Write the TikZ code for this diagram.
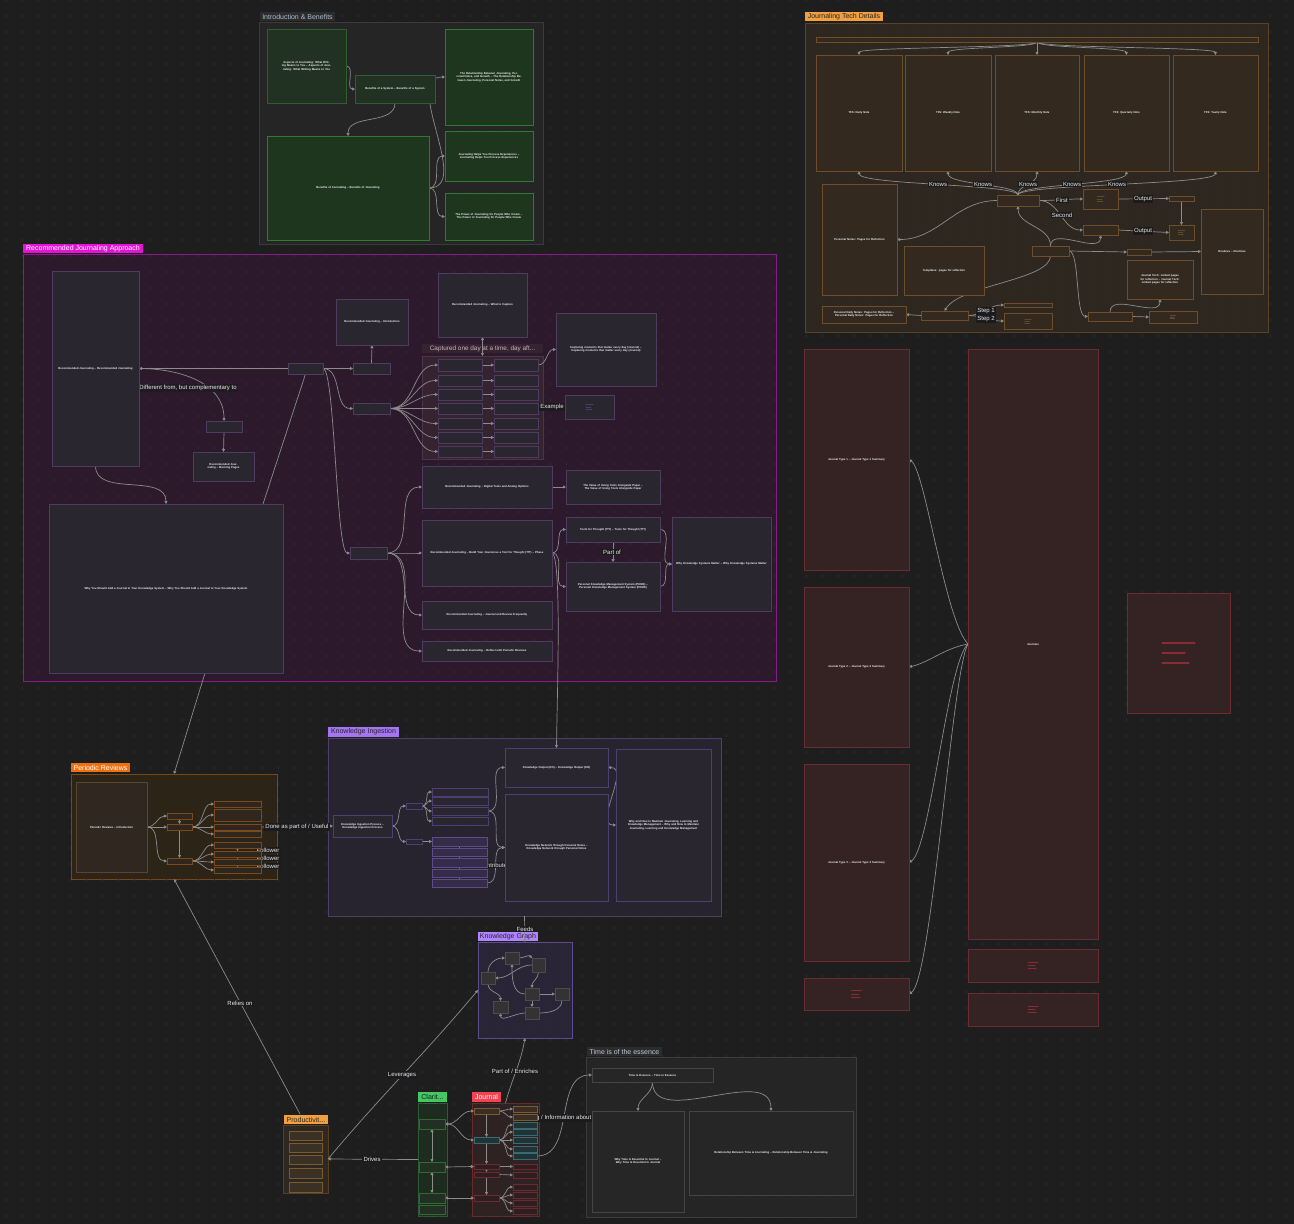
\documentclass[tikz,border=0pt]{standalone}
\usepackage{fontspec}
\setmainfont{Liberation Sans}
\usetikzlibrary{arrows.meta,calc}
\pgfdeclarelayer{groups}
\pgfdeclarelayer{dots}
\pgfdeclarelayer{tabs}
\pgfdeclarelayer{edges}
\pgfsetlayers{groups,dots,tabs,edges,main}
\definecolor{bgc}{HTML}{1E1E1E}
\definecolor{dotc}{HTML}{303030}
\definecolor{edgec}{HTML}{8C8C8C}
\definecolor{lblbg}{HTML}{1B1B1D}
\definecolor{lbltx}{HTML}{E8E8E8}
\definecolor{boxtx}{HTML}{F2F2F2}
\definecolor{introf}{HTML}{252525}
\definecolor{introd}{HTML}{3A3A3A}
\definecolor{introtab}{HTML}{2C2C2C}
\definecolor{introtx}{HTML}{A8BCD0}
\definecolor{gAf}{HTML}{223222}
\definecolor{gAd}{HTML}{2F5F2F}
\definecolor{gBf}{HTML}{1E361E}
\definecolor{gBd}{HTML}{2F7A2F}
\definecolor{techf}{HTML}{2E271F}
\definecolor{techd}{HTML}{5A4224}
\definecolor{techtab}{HTML}{F0A040}
\definecolor{technf}{HTML}{33291F}
\definecolor{technd}{HTML}{6E4D2A}
\definecolor{techic}{HTML}{5E4830}
\definecolor{recf}{HTML}{2C1A2C}
\definecolor{recd}{HTML}{8A1A8A}
\definecolor{rectab}{HTML}{E414D4}
\definecolor{recnf}{HTML}{29262F}
\definecolor{recnd}{HTML}{4C3C60}
\definecolor{capf}{HTML}{35232F}
\definecolor{capd}{HTML}{4E3448}
\definecolor{captx}{HTML}{C8B6C6}
\definecolor{recic}{HTML}{4A3D5E}
\definecolor{pertab}{HTML}{F07010}
\definecolor{perf}{HTML}{2D2418}
\definecolor{perd}{HTML}{7A4518}
\definecolor{pernf}{HTML}{2F261D}
\definecolor{pernd}{HTML}{7A4A1E}
\definecolor{per1f}{HTML}{302820}
\definecolor{per1d}{HTML}{5A4630}
\definecolor{kitab}{HTML}{A474F2}
\definecolor{kif}{HTML}{28242F}
\definecolor{kid}{HTML}{4A4068}
\definecolor{kinf}{HTML}{29262F}
\definecolor{kind}{HTML}{4C4070}
\definecolor{kilf}{HTML}{342C48}
\definecolor{kild}{HTML}{5C4C88}
\definecolor{kgtab}{HTML}{B084FF}
\definecolor{kgf}{HTML}{2A2536}
\definecolor{kgd}{HTML}{5C4C8C}
\definecolor{kgnf}{HTML}{333333}
\definecolor{kgnd}{HTML}{4C4C4C}
\definecolor{prf}{HTML}{2F2820}
\definecolor{prd}{HTML}{5A4020}
\definecolor{prnf}{HTML}{3A3024}
\definecolor{prnd}{HTML}{7A5A30}
\definecolor{clatab}{HTML}{44C864}
\definecolor{claf}{HTML}{1E2C20}
\definecolor{clad}{HTML}{2E5C32}
\definecolor{clanf}{HTML}{213022}
\definecolor{clnd}{HTML}{2E6A32}
\definecolor{joutab}{HTML}{F04452}
\definecolor{jouf}{HTML}{2E2222}
\definecolor{joud}{HTML}{6A2A2C}
\definecolor{jbrf}{HTML}{3A2E22}
\definecolor{jbrd}{HTML}{7A5A30}
\definecolor{jtef}{HTML}{1E3436}
\definecolor{jted}{HTML}{3C6A70}
\definecolor{jref}{HTML}{2E1E20}
\definecolor{jred}{HTML}{6A2A30}
\definecolor{tif}{HTML}{252525}
\definecolor{tid}{HTML}{3C3C3C}
\definecolor{titab}{HTML}{2C2C2C}
\definecolor{titx}{HTML}{B8C8D8}
\definecolor{tinf}{HTML}{262626}
\definecolor{tind}{HTML}{454545}
\definecolor{qf}{HTML}{352323}
\definecolor{qd}{HTML}{6A2C32}
\definecolor{qic}{HTML}{8A2C36}
\newcommand\boxfont{\fontsize{2.8}{3.3}\selectfont\bfseries}
\newcommand\tabfont{\fontsize{7}{8}\selectfont}
\newcommand\lblfont{\fontsize{6}{7}\selectfont}
\newcommand{\bx}[7]{%
 \pgfmathsetmacro\myBW{#4-#2}%
 \pgfmathsetmacro\myBH{#5-#3}%
 \pgfmathsetmacro\myCX{(#2+#4)/2}%
 \pgfmathsetmacro\myCY{(#3+#5)/2}%
 \pgfmathsetmacro\myTW{max(#4-#2-8,2)}%
 \node[#6, minimum width=\myBW pt, minimum height=\myBH pt, text width=\myTW pt] (#1) at (\myCX,\myCY) {#7};}
\newcommand{\tb}[7]{%
 \pgfmathsetmacro\myBW{#4-#2}%
 \pgfmathsetmacro\myBH{#5-#3}%
 \pgfmathsetmacro\myCX{(#2+#4)/2}%
 \pgfmathsetmacro\myCY{(#3+#5)/2}%
 \node[tabx, #6, minimum width=\myBW pt, minimum height=\myBH pt] (#1) at (\myCX,\myCY) {#7};}
\newcommand{\icn}[4]{%
 \begin{scope}[shift={(#1.center)}, scale=#2]
 \draw[draw=#3, line width=#4, line cap=round] (-4,-2.5)--(4,-2.5) (-4,0)--(1.5,0) (-4,2.5)--(2.5,2.5);
 \end{scope}}
\begin{document}
\begin{tikzpicture}[x=1pt,y=-1pt,
 ed/.style={draw=edgec, line width=0.7pt, -{Triangle[length=3pt,width=3pt]}},
 edd/.style={draw=edgec, line width=0.7pt, {Triangle[length=3pt,width=3pt]}-{Triangle[length=3pt,width=3pt]}},
 edp/.style={draw=edgec, line width=0.7pt},
 lbl/.style={fill=lblbg, text=lbltx, font=\lblfont, inner sep=1.2pt},
 nbox/.style={rectangle, inner sep=0pt, outer sep=0pt, line width=0.7pt, align=center, font=\boxfont, text=boxtx},
 grpx/.style={rectangle, inner sep=0pt, outer sep=0pt, line width=0.7pt},
 tabx/.style={rectangle, inner sep=0pt, outer sep=0pt, font=\tabfont, align=center},
 gA/.style={nbox, fill=gAf, draw=gAd},
 gB/.style={nbox, fill=gBf, draw=gBd},
 tn/.style={nbox, fill=technf, draw=technd},
 rn/.style={nbox, fill=recnf, draw=recnd},
 pn/.style={nbox, fill=pernf, draw=pernd},
 kn/.style={nbox, fill=kinf, draw=kind},
 kl/.style={nbox, fill=kilf, draw=kild},
 gn/.style={nbox, fill=kgnf, draw=kgnd},
 prn/.style={nbox, fill=prnf, draw=prnd},
 cn/.style={nbox, fill=clanf, draw=clnd},
 jb/.style={nbox, fill=jbrf, draw=jbrd},
 jt/.style={nbox, fill=jtef, draw=jted},
 jr/.style={nbox, fill=jref, draw=jred},
 tin/.style={nbox, fill=tinf, draw=tind},
 qn/.style={nbox, fill=qf, draw=qd}
]
\useasboundingbox (0,0) rectangle (1294,1224);
% ================= GROUPS =================
\begin{pgfonlayer}{groups}
\fill[bgc] (0,0) rectangle (1294,1224);
\bx{gIntro}{259}{22}{543}{244}{grpx, fill=introf, draw=introd}{}
\bx{gTech}{805}{23}{1268}{332}{grpx, fill=techf, draw=techd}{}
\bx{gRec}{23}{254}{776}{681}{grpx, fill=recf, draw=recd}{}
\bx{capg}{422}{356}{543}{459}{grpx, fill=capf, draw=capd}{}
\bx{PRg}{71}{774}{277}{879}{grpx, fill=perf, draw=perd}{}
\bx{KIg}{328}{738}{721}{916}{grpx, fill=kif, draw=kid}{}
\bx{KGg}{478}{942}{572}{1038}{grpx, fill=kgf, draw=kgd}{}
\bx{Pg}{283}{1125}{328}{1193}{grpx, fill=prf, draw=prd}{}
\bx{Cg}{418}{1103}{447}{1216}{grpx, fill=claf, draw=clad}{}
\bx{Jg}{472}{1103}{539}{1216}{grpx, fill=jouf, draw=joud}{}
\bx{Tg}{586}{1057}{856}{1217}{grpx, fill=tif, draw=tid}{}
\end{pgfonlayer}
% ================= DOT GRID =================
\begin{pgfonlayer}{dots}
\foreach \yy in {0,16,...,1216} \draw[dotc, line width=1.1pt, dash pattern=on 1.1pt off 14.9pt] (5.5,\yy) -- (1294,\yy);
\end{pgfonlayer}
% ================= TABS =================
\begin{pgfonlayer}{tabs}
\tb{tIntro}{260}{12}{335}{21}{fill=introtab, text=introtx}{Introduction \& Benefits}
\tb{tTech}{805}{12}{883}{21}{fill=techtab, text=black!85}{Journaling Tech Details}
\tb{tRec}{23}{244}{143}{253}{fill=rectab, text=white}{Recommended Journaling Approach}
\tb{tCap}{422}{344}{543}{353}{fill=capf, text=captx, font=\fontsize{6.4}{7}\selectfont}{Captured one day at a time, day aft...}
\tb{tPR}{71}{763}{130}{772}{fill=pertab, text=white}{Periodic Reviews}
\tb{tKI}{328}{727}{399}{737}{fill=kitab, text=black!85}{Knowledge Ingestion}
\tb{tKG}{478}{932}{538}{941}{fill=kgtab, text=black!85}{Knowledge Graph}
\tb{tP}{284}{1115}{328}{1124}{fill=techtab, text=black!85}{Productivit...}
\tb{tC}{418}{1092}{447}{1102}{fill=clatab, text=black!90}{Clarit...}
\tb{tJ}{472}{1092}{501}{1102}{fill=joutab, text=white}{Journal}
\tb{tT}{587}{1047}{662}{1056}{fill=titab, text=titx}{Time is of the essence}
\end{pgfonlayer}
% ================= NODES =================
% Introduction
\bx{iA}{267}{29}{346}{103}{gA}{Aspects of Journaling: What Writing Means to You – Aspects of Journaling: What Writing Means to You}
\bx{iB}{355}{75}{435}{103}{gA}{Benefits of a System – Benefits of a System}
\bx{iC}{267}{136}{429}{240}{gB}{Benefits of Journaling – Benefits of Journaling}
\bx{iD}{445}{29}{533}{125}{gB}{The Relationship Between Journaling, Personal Notes, and Growth – The Relationship Between Journaling, Personal Notes, and Growth}
\bx{iE}{445}{131}{533}{181}{gB}{Journaling Helps You Process Experiences – Journaling Helps You Process Experiences}
\bx{iF}{445}{193}{533}{240}{gB}{The Power of Journaling for People Who Create – The Power of Journaling for People Who Create}
% Tech
\bx{tTop}{816}{37}{1258}{42}{tn}{}
\bx{t1}{816}{55}{902}{171}{tn}{TFS: Daily Note}
\bx{t2}{905}{55}{991}{171}{tn}{TFS: Weekly Note}
\bx{t3}{995}{55}{1079}{171}{tn}{TFS: Monthly Note}
\bx{t4}{1084}{55}{1169}{171}{tn}{TFS: Quarterly Note}
\bx{t5}{1173}{55}{1258}{171}{tn}{TFS: Yearly Note}
\bx{K}{997}{195}{1039}{206}{tn}{}
\bx{L1}{822}{184}{897}{295}{tn}{Personal Notes: Pages for Reflection}
\bx{F1}{1083}{189}{1118}{209}{tn}{}
\bx{O1}{1169}{196}{1194}{201}{tn}{}
\bx{O2}{1169}{225}{1194}{240}{tn}{}
\bx{S2}{1083}{225}{1118}{235}{tn}{}
\bx{M}{1032}{246}{1069}{256}{tn}{}
\bx{N1}{1127}{249}{1151}{255}{tn}{}
\bx{BR}{1201}{209}{1263}{294}{tn}{Routines – Routines}
\bx{B1}{1088}{312}{1132}{321}{tn}{}
\bx{B2}{1149}{311}{1197}{323}{tn}{}
\bx{JT}{1127}{260}{1193}{299}{tn}{Journal Tech: Linked pages for reflection – Journal Tech: Linked pages for reflection}
\bx{FB}{904}{246}{984}{295}{tn}{Templates: pages for reflection}
\bx{S}{921}{311}{968}{320}{tn}{}
\bx{SL}{822}{306}{906}{323}{tn}{Personal Daily Notes: Pages for Reflection – Personal Daily Notes: Pages for Reflection}
\bx{St1}{1004}{303}{1052}{307}{tn}{}
\bx{St2}{1004}{313}{1052}{329}{tn}{}
\icn{F1}{0.9}{techic}{0.8pt}
\icn{O2}{0.8}{techic}{0.7pt}
\icn{B2}{0.7}{techic}{0.6pt}
\icn{St2}{0.8}{techic}{0.7pt}
% Recommended
\bx{R1}{52}{271}{139}{466}{rn}{Recommended Journaling – Recommended Journaling}
\bx{R2}{336}{299}{408}{345}{rn}{Recommended Journaling – Introduction}
\bx{H1}{288}{363}{323}{374}{rn}{}
\bx{Hs}{353}{363}{390}{374}{rn}{}
\bx{Hm}{353}{403}{390}{414}{rn}{}
\bx{Hb}{350}{547}{387}{559}{rn}{}
\bx{Rd}{206}{421}{242}{432}{rn}{}
\bx{Rp}{193}{452}{254}{481}{rn}{Recommended Journaling – Morning Pages}
\bx{R3}{49}{504}{283}{673}{rn}{Why You Should Add a Journal to Your Knowledge System – Why You Should Add a Journal to Your Knowledge System}
\bx{R4}{438}{273}{527}{337}{rn}{Recommended Journaling – What to Capture}
\foreach \i/\ya/\yb in {1/359/371, 2/375/386, 3/389/400, 4/403/414, 5/418/429, 6/432/443, 7/446/457}{
 \bx{cL\i}{438}{\ya}{482}{\yb}{rn}{}
 \bx{cR\i}{494}{\ya}{538}{\yb}{rn}{}
}
\bx{R5}{556}{313}{656}{386}{rn}{Capturing moments that matter every day (Journal) – Capturing moments that matter every day (Journal)}
\bx{Ex}{565}{395}{614}{419}{rn}{}
\icn{Ex}{0.9}{recic}{0.8pt}
\bx{R6}{422}{466}{552}{508}{rn}{Recommended Journaling – Digital Tools and Analog Options}
\bx{R6b}{566}{470}{660}{504}{rn}{The Value of Using Tools Alongside Paper – The Value of Using Tools Alongside Paper}
\bx{R7}{422}{520}{552}{586}{rn}{Recommended Journaling – Build Your Journal as a Tool for Thought (TfT) – Phase}
\bx{R8}{422}{601}{552}{629}{rn}{Recommended Journaling – Journal and Review Frequently}
\bx{R9}{422}{641}{552}{661}{rn}{Recommended Journaling – Reflect with Periodic Reviews}
\bx{P1}{566}{517}{660}{542}{rn}{Tools for Thought (TfT) – Tools for Thought (TfT)}
\bx{P2}{566}{562}{660}{611}{rn}{Personal Knowledge Management System (PKMS) – Personal Knowledge Management System (PKMS)}
\bx{P3}{672}{517}{771}{611}{rn}{Why Knowledge Systems Matter – Why Knowledge Systems Matter}
% Periodic reviews
\bx{PR1}{76}{782}{147}{872}{nbox, fill=per1f, draw=per1d}{Periodic Reviews – Introduction}
\bx{pa}{167}{813}{192}{819}{pn}{}
\bx{pb}{167}{824}{192}{830}{pn}{}
\bx{pc}{167}{858}{192}{864}{pn}{}
\foreach \i/\ya/\yb in {1/801/807, 2/809/821, 3/824/830, 4/831/837}{\bx{pu\i}{214}{\ya}{261}{\yb}{pn}{}}
\foreach \i/\ya/\yb in {1/842/848, 2/851/857, 3/859/865, 4/867/873}{\bx{pl\i}{214}{\ya}{261}{\yb}{pn}{}}
% Knowledge ingestion
\bx{KI1}{333}{815}{392}{837}{kn}{Knowledge Ingestion Process – Knowledge Ingestion Process}
\bx{h1}{406}{803}{422}{809}{kn}{}
\bx{h2}{406}{839}{422}{844}{kn}{}
\foreach \i/\ya/\yb in {1/788/796, 2/797/805, 3/807/815, 4/817/825}{\bx{ku\i}{432}{\ya}{488}{\yb}{kn}{}}
\foreach \i/\ya/\yb in {1/837/846, 2/848/856, 3/858/867, 4/869/877, 5/879/887}{\bx{kl\i}{432}{\ya}{487}{\yb}{kl}{}}
\bx{KS1}{505}{748}{608}{787}{kn}{Knowledge Output (KO) – Knowledge Output (KO)}
\bx{KS2}{505}{794}{608}{901}{kn}{Knowledge Network through Personal Notes – Knowledge Network through Personal Notes}
\bx{KS3}{616}{749}{711}{901}{kn}{Why and How to Maintain Journaling, Learning and Knowledge Management – Why and How to Maintain Journaling, Learning and Knowledge Management}
% Knowledge graph
\bx{g1}{505}{952}{519}{964}{gn}{}
\bx{g2}{532}{958}{545}{972}{gn}{}
\bx{g3}{481}{972}{495}{984}{gn}{}
\bx{g4}{525}{988}{539}{1000}{gn}{}
\bx{g5}{555}{988}{569}{1000}{gn}{}
\bx{g6}{493}{1001}{508}{1013}{gn}{}
\bx{g7}{525}{1007}{539}{1019}{gn}{}
% Productivity
\foreach \i/\ya/\yb in {1/1131/1140, 2/1143/1152, 3/1155/1164, 4/1168/1178, 5/1182/1192}{\bx{pi\i}{289}{\ya}{322}{\yb}{prn}{}}
% Clarity
\bx{c1}{419}{1119}{445}{1129}{cn}{}
\bx{c2}{419}{1162}{445}{1172}{cn}{}
\bx{c3}{419}{1193}{445}{1203}{cn}{}
\bx{c4}{419}{1205}{445}{1214}{cn}{}
% Journal
\bx{j1}{474}{1108}{499}{1114}{jb}{}
\bx{j2}{474}{1137}{499}{1143}{jt}{}
\bx{j3}{474}{1164}{499}{1169}{jr}{}
\bx{j4}{474}{1172}{499}{1177}{jr}{}
\bx{j5}{474}{1195}{499}{1201}{jr}{}
\foreach \i/\ya/\yb in {1/1106/1112, 2/1114/1120}{\bx{jb\i}{513}{\ya}{537}{\yb}{jb}{}}
\foreach \i/\ya/\yb in {1/1122/1128, 2/1129/1135, 3/1137/1143, 4/1146/1152, 5/1153/1159}{\bx{jt\i}{513}{\ya}{537}{\yb}{jt}{}}
\foreach \i/\ya/\yb in {1/1164/1169, 2/1172/1178}{\bx{jr\i}{513}{\ya}{537}{\yb}{jr}{}}
\foreach \i/\ya/\yb in {1/1184/1190, 2/1192/1198, 3/1200/1206, 4/1208/1214}{\bx{jq\i}{513}{\ya}{537}{\yb}{jr}{}}
% Time
\bx{T1}{592}{1068}{713}{1082}{tin}{Time Is Essence – Time Is Essence}
\bx{T2}{592}{1111}{684}{1212}{tin}{Why Time Is Essential to Journal – Why Time Is Essential to Journal}
\bx{T3}{689}{1111}{853}{1195}{tin}{Relationship Between Time \& Journaling – Relationship Between Time \& Journaling}
% Right column
\bx{Q1}{804}{349}{909}{570}{qn}{Journal Type 1 – Journal Type 1 Summary}
\bx{Q2}{804}{587}{909}{747}{qn}{Journal Type 2 – Journal Type 2 Summary}
\bx{Q3}{804}{764}{909}{961}{qn}{Journal Type 3 – Journal Type 3 Summary}
\bx{Q4}{804}{978}{909}{1010}{qn}{}
\bx{BIG}{968}{349}{1098}{939}{qn}{Journals}
\bx{BS1}{968}{949}{1098}{982}{qn}{}
\bx{BS2}{968}{993}{1098}{1026}{qn}{}
\bx{IC}{1127}{593}{1230}{713}{qn}{}
\icn{Q4}{1.25}{qic}{0.8pt}
\icn{BS1}{1.25}{qic}{0.8pt}
\icn{BS2}{1.25}{qic}{0.8pt}
\icn{IC}{4}{qic}{2.2pt}
% ================= EDGES =================
\begin{pgfonlayer}{edges}
% Intro
\draw[ed] (iA.east) to[out=0,in=180] (iB.west);
\draw[ed] (iB.south) to[out=-90,in=90] (iC.north);
\foreach \t in {iD,iE,iF} \draw[ed] (iC.east) to[out=0,in=180] (\t.west);
% Tech
\foreach \t/\xx in {t1/859,t2/948,t3/1037,t4/1126,t5/1215}{
 \draw[ed] (tTop.south) .. controls (1037,48) and (\xx,47) .. (\t.north);
 \draw[ed] (K.north) .. controls (1018,184) and (\xx,185) .. (\t.south);
}
\node[lbl] (lk1) at (938,184) {Knows};
\node[lbl] (lk2) at (983,184) {Knows};
\node[lbl] (lk3) at (1028,184) {Knows};
\node[lbl] (lk4) at (1072,184) {Knows};
\node[lbl] (lk5) at (1117,184) {Knows};
\draw[ed] (K.west) to[out=180,in=0] (L1.east);
\draw[ed] (K.east) to[out=0,in=180] (F1.west);
\node[lbl] (lf) at (1062,200) {First};
\draw[ed] (K.east) to[out=0,in=180] (S2.west);
\node[lbl] (ls) at (1062,215) {Second};
\draw[ed] (F1.east) -- (O1.west);
\node[lbl] (lo1) at (1143,199) {Output};
\draw[ed] (S2.east) -- (O2.west);
\node[lbl] (lo2) at (1143,231) {Output};
\draw[ed] (O1.south) -- (O2.north);
\draw[ed] (M.north) to[out=90,in=-90] (K.south);
\draw[ed] (M.north) to[out=90,in=-90] (S2.south);
\draw[ed] (M.east) -- (N1.west);
\draw[ed] (N1.east) -- (BR.west);
\draw[ed] (M.east) .. controls (1080,251) and (1075,316) .. (B1.west);
\draw[ed] (B1.east) -- (B2.west);
\draw[ed] (B1.north) to[out=90,in=-90] (JT.south);
\draw[ed] (M.south) .. controls (1050,280) and (960,285) .. (S.north);
\draw[ed] (S.west) -- (SL.east);
\draw[ed] (S.east) to[out=0,in=180] (St1.west);
\draw[ed] (S.east) to[out=0,in=180] (St2.west);
\node[lbl] (lst1) at (986,311) {Step 1};
\node[lbl] (lst2) at (986,319) {Step 2};
% Recommended
\draw[ed] (H1.west) -- (R1.east);
\draw[ed] (R1.east) to[out=0,in=90] (Rd.north);
\node[lbl, fill=lblbg!70!recf] (ldiff) at (188,388) {Different from, but complementary to};
\draw[ed] (Rd.south) -- (Rp.north);
\draw[ed] (H1.east) -- (Hs.west);
\draw[ed] (Hs.north) -- (R2.south);
\draw[ed] (H1.east) to[out=0,in=180] (Hm.west);
\draw[ed] (H1.east) .. controls (335,368) and (336,553) .. (Hb.west);
\draw[ed] (R1.south) to[out=-90,in=90] (R3.north);
\coordinate (r3a) at (263,504);
\draw[edp] (r3a) -- (H1.south);
\foreach \i in {1,...,7}{
 \draw[ed] (Hm.east) to[out=0,in=180] (cL\i.west);
 \draw[ed] (cL\i.east) -- (cR\i.west);
}
\draw[ed] (cR1.east) to[out=0,in=180] (R5.west);
\draw[edd] (R4.south) -- (capg.north);
\draw[ed] (capg.east) -- (Ex.west);
\node[lbl] (lex) at (552,407) {Example};
\foreach \t in {R6,R7,R8,R9} \draw[ed] (Hb.east) to[out=0,in=180] (\t.west);
\draw[ed] (R6.east) -- (R6b.west);
\draw[ed] (R7.east) to[out=0,in=180] (P1.west);
\draw[ed] (R7.east) to[out=0,in=180] (P2.west);
\draw[ed] (P1.south) -- (P2.north);
\node[lbl] (lpart) at (612,552) {Part of};
\draw[ed] (P1.east) to[out=0,in=180] (P3.west);
\draw[ed] (P2.east) to[out=0,in=180] (P3.west);
\draw[ed] (R7.east) .. controls (562,556) and (557,700) .. (KS1.north);
\coordinate (r3b) at (205,673);
\draw[ed] (r3b) -- (PRg.north);
% Periodic
\foreach \t in {pa,pb,pc} \draw[ed] (PR1.east) to[out=0,in=180] (\t.west);
\draw[ed] (pa.south) -- (pb.north);
\draw[ed] (pb.south) -- (pc.north);
\foreach \i in {1,...,4}{
 \draw[ed] (pb.east) to[out=0,in=180] (pu\i.west);
 \draw[ed] (pc.east) to[out=0,in=180] (pl\i.west);
}
\draw[ed] (pl1.south) -- (pl2.north);
\draw[ed] (pl2.south) -- (pl3.north);
\draw[ed] (pl3.south) -- (pl4.north);
\node[lbl] (lf1) at (268,850) {Follower};
\node[lbl] (lf2) at (268,858) {Follower};
\node[lbl] (lf3) at (268,866) {Follower};
\draw[ed] (pu3.east) -- (KI1.west);
\node[lbl] (ldone) at (297,827) {Done as part of / Useful};
\coordinate (pgt) at (300,1114);
\draw[ed] (pgt) -- (PRg.south);
\node[lbl] (lrel) at (240,1003) {Relies on};
% Knowledge ingestion
\draw[ed] (KI1.east) to[out=0,in=180] (h1.west);
\draw[ed] (KI1.east) to[out=0,in=180] (h2.west);
\foreach \i in {1,...,4} \draw[ed] (h1.east) to[out=0,in=180] (ku\i.west);
\draw[ed] (h2.east) -- (kl1.west);
\foreach \i/\j in {1/2,2/3,3/4,4/5} \draw[ed] (kl\i.south) -- (kl\j.north);
\draw[ed] (ku3.east) to[out=0,in=180] (KS1.west);
\draw[ed] (ku3.east) to[out=0,in=180] (KS2.west);
\draw[ed] (kl5.east) to[out=0,in=180] (KS2.west);
\node[lbl] (lcon) at (498,865) {Contributes to};
\draw[edd] (KS1.east) to[out=0,in=180] (KS3.west);
\draw[ed] (KIg.south) -- (KGg.north);
\node[lbl] (lfeeds) at (525,929) {Feeds};
% Knowledge graph
\draw[ed] (g3.north) to[out=90,in=180] (g1.west);
\draw[ed] (g1.east) to[out=0,in=135] (g2.north west);
\draw[ed] (g2.west) to[out=180,in=0] (g3.east);
\draw[ed] (g2.south) to[out=-90,in=90] (g4.north);
\draw[ed] (g4.west) to[out=180,in=-90] (g1.south);
\draw[ed] (g4.east) -- (g5.west);
\draw[ed] (g4.south) -- (g7.north);
\draw[ed] (g3.south) to[out=-90,in=90] (g6.north);
\draw[edp] (g5.south) to[out=-90,in=0] (g7.east);
\draw[ed] (g7.west) to[out=180,in=-90] (g6.south);
% Productivity / Clarity / Journal
\draw[ed] (Pg.east) to[out=50,in=-130] (KGg.west);
\node[lbl] (llev) at (402,1075) {Leverages};
\draw[ed] (Cg.west) -- (Pg.east);
\node[lbl] (ldrv) at (372,1159) {Drives};
\draw[ed] (Jg.north) to[out=75,in=-100] (KGg.south);
\node[lbl] (lenr) at (515,1071) {Part of / Enriches};
\draw[edd] (c1.south) -- (c2.north);
\draw[edd] (c2.south) -- (c3.north);
\draw[edd] (c1.east) to[out=0,in=180] (j1.west);
\draw[edd] (c1.east) to[out=0,in=180] (j2.west);
\draw[edd] (c2.east) -- (j3.west);
\draw[edd] (c3.east) -- (j5.west);
\draw[ed] (j1.south) -- (j2.north);
\draw[ed] (j2.south) -- (j3.north);
\draw[ed] (j3.south) -- (j4.north);
\draw[ed] (j4.south) -- (j5.north);
\foreach \i in {1,2} \draw[ed] (j1.east) to[out=0,in=180] (jb\i.west);
\foreach \i in {1,...,5} \draw[ed] (j2.east) to[out=0,in=180] (jt\i.west);
\draw[ed] (j3.east) -- (jr1.west);
\draw[ed] (j4.east) -- (jr2.west);
\foreach \i in {1,...,4} \draw[ed] (j5.east) to[out=0,in=180] (jq\i.west);
\draw[ed] (jt5.east) to[out=0,in=180] (T1.west);
\node[lbl] (linf) at (554,1118) {Tracking / Information about};
% Time
\draw[ed] (T1.south) to[out=-90,in=90] (T2.north);
\draw[ed] (T1.south) to[out=-90,in=90] (T3.north);
% Right column
\draw[ed] (BIG.west) .. controls (945,620) and (925,470) .. (Q1.east);
\draw[ed] (BIG.west) .. controls (945,648) and (930,662) .. (Q2.east);
\draw[ed] (BIG.west) .. controls (948,660) and (930,850) .. (Q3.east);
\draw[ed] (BIG.west) .. controls (952,670) and (932,980) .. (Q4.east);
\end{pgfonlayer}
\end{tikzpicture}
\end{document}
